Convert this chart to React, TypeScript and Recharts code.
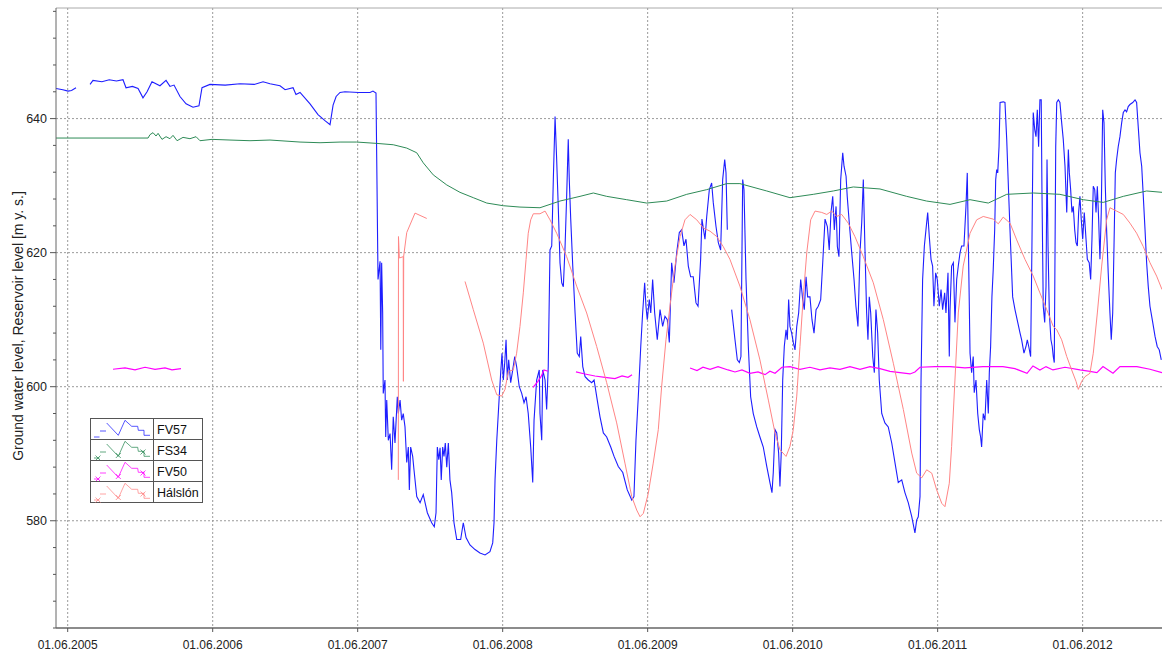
import React from "react";
import {
  LineChart,
  Line,
  XAxis,
  YAxis,
  CartesianGrid,
  ReferenceLine,
  Legend,
} from "recharts";

// time is stored as decimal years, values in m y. s.
type Pt = [number, number | null];

const FV57: Pt[] = [
  [2005.333, 644.5], [2005.38, 644.3], [2005.416, 644.1], [2005.44, 644.2], [2005.471, 644.6],
  [2005.52, null],
  [2005.568, 645.1], [2005.588, 645.7], [2005.65, 645.5], [2005.7, 645.8], [2005.75, 645.6],
  [2005.795, 645.8], [2005.816, 644.6], [2005.86, 644.8], [2005.899, 644.5], [2005.933, 643.1],
  [2005.961, 644.0], [2005.995, 645.5], [2006.05, 644.9], [2006.092, 645.7], [2006.119, 644.8],
  [2006.147, 645.0], [2006.188, 643.3], [2006.23, 642.2], [2006.278, 641.7], [2006.319, 641.9],
  [2006.34, 644.6], [2006.395, 645.1], [2006.5, 645.0], [2006.602, 645.2], [2006.7, 645.1],
  [2006.761, 645.5], [2006.809, 645.2], [2006.878, 644.9], [2006.913, 644.3], [2006.968, 644.6],
  [2006.988, 643.6], [2007.016, 643.9], [2007.085, 642.2], [2007.14, 640.6], [2007.188, 639.7],
  [2007.223, 639.1], [2007.244, 642.0], [2007.265, 643.3], [2007.292, 643.9], [2007.326, 644.0],
  [2007.42, 643.9], [2007.499, 643.9], [2007.519, 644.1], [2007.54, 643.8],
  [2007.547, 630.0], [2007.554, 616.0], [2007.568, 618.7], [2007.573, 605.5], [2007.579, 618.5],
  [2007.586, 611.0], [2007.59, 599.0], [2007.602, 601.0], [2007.607, 592.5], [2007.614, 598.0],
  [2007.625, 592.0], [2007.637, 593.0], [2007.648, 587.6], [2007.659, 595.5], [2007.671, 591.6],
  [2007.687, 598.5], [2007.694, 596.0], [2007.706, 598.0], [2007.717, 595.0], [2007.728, 596.0],
  [2007.74, 594.0], [2007.752, 588.7], [2007.763, 591.0], [2007.77, 584.6], [2007.779, 591.0],
  [2007.793, 589.6], [2007.802, 587.6], [2007.821, 583.6], [2007.844, 582.7], [2007.866, 583.9],
  [2007.894, 581.2], [2007.924, 579.7], [2007.942, 579.1], [2007.954, 581.2], [2007.963, 591.0],
  [2007.973, 589.1], [2007.982, 590.9], [2007.99, 586.1], [2008.0, 591.0], [2008.009, 589.6],
  [2008.018, 591.6], [2008.028, 588.0], [2008.039, 591.6], [2008.05, 586.1], [2008.062, 584.2],
  [2008.078, 579.7], [2008.097, 577.2], [2008.124, 577.2], [2008.142, 579.7], [2008.161, 577.5],
  [2008.188, 576.4], [2008.223, 575.7], [2008.257, 575.2], [2008.292, 574.9], [2008.326, 575.4],
  [2008.345, 576.7], [2008.354, 579.7], [2008.361, 586.1], [2008.373, 592.0], [2008.39, 598.5],
  [2008.4, 602.1], [2008.409, 605.0], [2008.418, 601.0], [2008.428, 603.6], [2008.437, 607.0],
  [2008.446, 601.0], [2008.455, 604.0], [2008.469, 600.6], [2008.483, 602.5], [2008.497, 604.5],
  [2008.51, 603.0], [2008.528, 600.0], [2008.545, 599.0], [2008.561, 597.6], [2008.575, 598.5],
  [2008.59, 596.0], [2008.607, 591.0], [2008.621, 585.7], [2008.63, 595.0], [2008.648, 601.0],
  [2008.666, 602.5], [2008.671, 596.0], [2008.683, 592.0], [2008.69, 602.5], [2008.706, 601.0],
  [2008.717, 596.6], [2008.728, 603.0], [2008.74, 620.4], [2008.752, 621.0], [2008.763, 630.9],
  [2008.775, 640.3], [2008.786, 633.9], [2008.797, 626.9], [2008.809, 618.5], [2008.821, 615.5],
  [2008.832, 614.9], [2008.844, 620.9], [2008.855, 628.4], [2008.866, 636.9], [2008.873, 630.9],
  [2008.883, 625.0], [2008.897, 618.0], [2008.913, 611.0], [2008.928, 605.0], [2008.942, 604.5],
  [2008.952, 607.5], [2008.966, 603.0], [2008.982, 601.5], [2009.004, 601.0], [2009.028, 600.6],
  [2009.044, 601.0], [2009.066, 598.0], [2009.085, 595.5], [2009.108, 593.1], [2009.131, 592.5],
  [2009.159, 591.0], [2009.182, 589.6], [2009.211, 588.1], [2009.242, 587.2], [2009.273, 584.6],
  [2009.304, 583.1], [2009.319, 583.6], [2009.333, 592.0], [2009.349, 598.5], [2009.366, 606.0],
  [2009.379, 611.0], [2009.393, 615.5], [2009.402, 612.0], [2009.411, 610.0], [2009.425, 613.0],
  [2009.435, 611.0], [2009.448, 616.0], [2009.462, 611.0], [2009.48, 607.0], [2009.499, 611.5],
  [2009.517, 609.0], [2009.533, 610.5], [2009.549, 610.0], [2009.563, 606.6], [2009.579, 618.5],
  [2009.595, 615.5], [2009.614, 620.0], [2009.632, 623.0], [2009.648, 623.4], [2009.664, 621.0],
  [2009.678, 622.0], [2009.694, 618.0], [2009.71, 616.4], [2009.728, 616.4], [2009.747, 612.5],
  [2009.761, 612.0], [2009.779, 619.0], [2009.788, 625.0], [2009.809, 622.0], [2009.821, 625.4],
  [2009.839, 629.4], [2009.855, 630.4], [2009.866, 627.5], [2009.885, 623.9], [2009.901, 621.5],
  [2009.917, 620.4], [2009.931, 630.9], [2009.945, 633.9], [2009.954, 631.9], [2009.963, 623.4],
  [2009.975, null],
  [2009.993, 611.5], [2010.016, 607.0], [2010.032, 604.0], [2010.046, 603.6], [2010.057, 604.5],
  [2010.069, 630.9], [2010.078, 629.4], [2010.092, 616.0], [2010.108, 606.0], [2010.124, 598.5],
  [2010.142, 596.0], [2010.166, 594.0], [2010.188, 592.5], [2010.211, 591.0], [2010.235, 588.1],
  [2010.257, 585.7], [2010.271, 584.2], [2010.28, 587.2], [2010.292, 593.6], [2010.304, 593.1],
  [2010.317, 590.1], [2010.326, 585.1], [2010.335, 590.1], [2010.345, 601.0], [2010.356, 606.0],
  [2010.368, 608.5], [2010.377, 607.0], [2010.386, 613.0], [2010.395, 609.0], [2010.407, 608.0],
  [2010.418, 606.6], [2010.43, 605.5], [2010.442, 609.0], [2010.455, 611.0], [2010.469, 616.0],
  [2010.483, 613.0], [2010.494, 611.5], [2010.506, 616.4], [2010.517, 613.4], [2010.533, 613.4],
  [2010.547, 610.0], [2010.561, 608.0], [2010.575, 611.5], [2010.59, 612.0], [2010.607, 613.0],
  [2010.621, 618.5], [2010.637, 625.0], [2010.653, 623.9], [2010.666, 620.4], [2010.678, 626.0],
  [2010.69, 628.4], [2010.701, 623.4], [2010.713, 626.9], [2010.722, 620.9], [2010.733, 619.4],
  [2010.745, 630.9], [2010.759, 634.9], [2010.768, 632.9], [2010.782, 631.4], [2010.79, 628.4],
  [2010.804, 624.5], [2010.821, 620.0], [2010.837, 616.0], [2010.85, 612.0], [2010.864, 609.0],
  [2010.878, 620.0], [2010.89, 624.5], [2010.901, 630.9], [2010.913, 620.0], [2010.924, 611.0],
  [2010.933, 607.0], [2010.942, 613.4], [2010.952, 611.0], [2010.966, 604.5], [2010.977, 602.1],
  [2010.988, 611.5], [2011.0, 608.0], [2011.011, 601.0], [2011.028, 596.0], [2011.05, 594.6],
  [2011.073, 594.0], [2011.097, 591.6], [2011.119, 588.7], [2011.142, 585.7], [2011.166, 586.1],
  [2011.188, 584.2], [2011.211, 582.7], [2011.235, 580.6], [2011.257, 578.2], [2011.269, 580.1],
  [2011.28, 580.6], [2011.292, 583.6], [2011.299, 601.0], [2011.31, 616.0], [2011.322, 621.0],
  [2011.333, 623.4], [2011.345, 626.0], [2011.356, 622.4], [2011.368, 619.0], [2011.379, 618.0],
  [2011.388, 612.0], [2011.4, 617.0], [2011.411, 616.0], [2011.425, 612.0], [2011.437, 614.5],
  [2011.448, 611.5], [2011.462, 614.0], [2011.471, 611.0], [2011.485, 617.0], [2011.494, 604.5],
  [2011.499, 611.5], [2011.51, 618.0], [2011.522, 618.5], [2011.533, 609.6], [2011.545, 616.0],
  [2011.556, 618.0], [2011.568, 620.0], [2011.579, 621.0], [2011.595, 621.0], [2011.609, 626.9],
  [2011.618, 631.9], [2011.628, 618.0], [2011.637, 605.0], [2011.648, 602.1], [2011.659, 604.5],
  [2011.666, 599.1], [2011.678, 601.0], [2011.69, 596.0], [2011.701, 593.6], [2011.71, 592.5],
  [2011.717, 591.0], [2011.728, 596.0], [2011.74, 595.0], [2011.752, 601.0], [2011.763, 596.0],
  [2011.77, 602.1], [2011.779, 606.0], [2011.788, 613.4], [2011.797, 617.5], [2011.807, 623.4],
  [2011.814, 630.9], [2011.821, 632.4], [2011.828, 631.9], [2011.837, 635.8], [2011.844, 642.4],
  [2011.866, 642.5], [2011.878, 642.4], [2011.89, 636.9], [2011.904, 628.4], [2011.917, 621.0],
  [2011.931, 613.4], [2011.947, 611.5], [2011.966, 609.6], [2011.982, 608.0], [2011.993, 607.0],
  [2012.009, 605.0], [2012.023, 606.0], [2012.032, 607.0], [2012.042, 606.0], [2012.055, 604.5],
  [2012.064, 621.0], [2012.073, 640.9], [2012.083, 638.4], [2012.092, 637.3], [2012.101, 641.3],
  [2012.11, 635.8], [2012.119, 642.8], [2012.128, 642.8], [2012.133, 629.4], [2012.142, 612.0],
  [2012.152, 609.6], [2012.161, 615.0], [2012.168, 633.9], [2012.175, 621.0], [2012.184, 611.0],
  [2012.195, 607.0], [2012.204, 606.0], [2012.211, 604.5], [2012.218, 603.6], [2012.228, 635.8],
  [2012.235, 642.4], [2012.246, 642.8], [2012.257, 642.4], [2012.269, 639.4], [2012.28, 636.9],
  [2012.292, 632.9], [2012.304, 626.0], [2012.315, 635.4], [2012.322, 631.9], [2012.331, 629.4],
  [2012.34, 626.0], [2012.349, 626.9], [2012.359, 623.4], [2012.368, 621.5], [2012.377, 621.0],
  [2012.386, 626.0], [2012.395, 628.4], [2012.404, 625.0], [2012.414, 622.0], [2012.425, 626.0],
  [2012.437, 622.0], [2012.446, 619.0], [2012.459, 618.5], [2012.469, 616.0], [2012.478, 622.0],
  [2012.487, 629.9], [2012.497, 629.4], [2012.506, 626.0], [2012.515, 629.9], [2012.524, 625.0],
  [2012.533, 619.0], [2012.542, 626.0], [2012.552, 641.3], [2012.561, 639.4], [2012.57, 629.9],
  [2012.579, 623.4], [2012.59, 617.0], [2012.602, 611.0], [2012.611, 607.0], [2012.621, 611.0],
  [2012.63, 621.0], [2012.639, 631.9], [2012.648, 633.9], [2012.659, 635.8], [2012.671, 637.3],
  [2012.683, 639.4], [2012.694, 640.9], [2012.706, 641.3], [2012.717, 641.0], [2012.728, 641.8],
  [2012.74, 642.1], [2012.759, 642.4], [2012.775, 642.8], [2012.786, 642.4], [2012.797, 638.8],
  [2012.809, 634.9], [2012.821, 632.9], [2012.832, 628.4], [2012.844, 623.4], [2012.855, 618.5],
  [2012.866, 615.0], [2012.878, 612.0], [2012.897, 609.6], [2012.913, 607.5], [2012.928, 606.0],
  [2012.942, 605.5], [2012.956, 604.0],
];

const FS34: Pt[] = [
  [2005.333, 637.1], [2005.968, 637.1], [2005.981, 637.6], [2006.002, 637.9], [2006.023, 637.4],
  [2006.037, 637.8], [2006.064, 636.9], [2006.092, 637.3], [2006.119, 637.0], [2006.14, 637.5],
  [2006.168, 636.7], [2006.209, 637.2], [2006.257, 637.0], [2006.299, 637.3], [2006.326, 636.7],
  [2006.409, 636.9], [2006.533, 636.8], [2006.671, 636.7], [2006.809, 636.8], [2007.016, 636.5],
  [2007.154, 636.4], [2007.292, 636.5], [2007.407, 636.5], [2007.545, 636.3], [2007.659, 636.1],
  [2007.752, 635.6], [2007.821, 634.9], [2007.866, 633.4], [2007.935, 631.6], [2008.028, 630.1],
  [2008.119, 629.0], [2008.211, 628.2], [2008.304, 627.4], [2008.418, 627.0], [2008.533, 626.8],
  [2008.671, 626.7], [2008.809, 627.7], [2008.947, 628.4], [2009.039, 628.9], [2009.131, 628.4],
  [2009.269, 627.9], [2009.407, 627.4], [2009.545, 627.7], [2009.683, 628.7], [2009.821, 629.4],
  [2009.959, 630.3], [2010.05, 630.3], [2010.235, 629.2], [2010.395, 628.2], [2010.556, 628.7],
  [2010.694, 629.2], [2010.832, 629.8], [2011.016, 629.5], [2011.2, 628.4], [2011.337, 627.7],
  [2011.499, 627.2], [2011.637, 627.9], [2011.763, 627.4], [2011.89, 628.7], [2012.073, 628.9],
  [2012.257, 628.7], [2012.418, 627.9], [2012.556, 627.5], [2012.694, 628.4], [2012.855, 629.2],
  [2012.961, 629.0],
];

const FV50: Pt[] = [
  [2005.726, 602.6], [2005.809, 602.8], [2005.878, 602.5], [2005.947, 602.9], [2006.016, 602.6],
  [2006.085, 602.8], [2006.133, 602.5], [2006.195, 602.7],
  [2006.3, null],
  [2008.623, 599.9], [2008.657, 600.8], [2008.678, 601.5], [2008.699, 602.5], [2008.726, 602.3],
  [2008.8, null],
  [2008.919, 602.2], [2008.981, 601.9], [2009.05, 601.6], [2009.119, 601.4], [2009.188, 601.2],
  [2009.237, 601.6], [2009.278, 601.4], [2009.306, 601.8],
  [2009.5, null],
  [2009.706, 602.8], [2009.754, 602.4], [2009.795, 602.9], [2009.844, 602.6], [2009.899, 603.0],
  [2009.968, 602.5], [2010.016, 602.2], [2010.064, 602.5], [2010.119, 602.0], [2010.175, 602.2],
  [2010.223, 601.8], [2010.257, 602.3], [2010.292, 602.0], [2010.34, 602.9], [2010.395, 603.0],
  [2010.464, 602.6], [2010.533, 602.9], [2010.602, 602.5], [2010.671, 602.8], [2010.74, 602.6],
  [2010.809, 603.0], [2010.878, 602.6], [2010.947, 603.0], [2011.016, 602.7], [2011.085, 602.3],
  [2011.154, 602.1], [2011.223, 601.9], [2011.257, 602.2], [2011.292, 602.9], [2011.395, 603.0],
  [2011.499, 603.0], [2011.602, 602.8], [2011.726, 603.0], [2011.864, 603.0], [2011.947, 602.7],
  [2012.03, 602.0], [2012.071, 603.1], [2012.119, 602.5], [2012.161, 603.0], [2012.209, 602.5],
  [2012.292, 602.9], [2012.395, 602.5], [2012.464, 602.3], [2012.512, 602.1], [2012.554, 603.0],
  [2012.623, 602.0], [2012.671, 603.0], [2012.788, 603.0], [2012.878, 602.6], [2012.961, 602.1],
];

const HALSLON: Pt[] = [
  [2007.694, 586.1], [2007.695, 622.4], [2007.701, 619.2], [2007.728, 619.4], [2007.729, 600.8],
  [2007.731, 619.5], [2007.752, 623.0], [2007.809, 625.9], [2007.89, 625.1],
  [2008.0, null],
  [2008.154, 615.7], [2008.211, 611.5], [2008.28, 606.5], [2008.338, 601.0], [2008.373, 598.8],
  [2008.407, 598.6], [2008.43, 599.6], [2008.453, 602.3], [2008.487, 602.5], [2008.51, 605.0],
  [2008.533, 609.0], [2008.556, 614.0], [2008.575, 619.0], [2008.59, 622.9], [2008.607, 624.9],
  [2008.625, 625.8], [2008.671, 625.8], [2008.706, 626.2], [2008.74, 624.9], [2008.786, 622.9],
  [2008.855, 619.4], [2008.924, 615.0], [2008.993, 611.0], [2009.062, 606.0], [2009.131, 600.6],
  [2009.2, 594.6], [2009.257, 588.6], [2009.304, 583.6], [2009.338, 581.6], [2009.361, 580.6],
  [2009.384, 581.1], [2009.418, 584.1], [2009.452, 588.6], [2009.487, 593.6], [2009.51, 600.0],
  [2009.54, 607.0], [2009.573, 613.0], [2009.602, 618.0], [2009.637, 622.4], [2009.671, 624.9],
  [2009.706, 625.7], [2009.752, 624.9], [2009.797, 623.7], [2009.844, 623.2], [2009.89, 622.4],
  [2009.935, 620.9], [2009.981, 619.0], [2010.05, 615.0], [2010.119, 610.0], [2010.188, 604.0],
  [2010.246, 598.0], [2010.292, 593.1], [2010.326, 590.6], [2010.368, 589.6], [2010.395, 591.1],
  [2010.418, 593.6], [2010.442, 598.6], [2010.464, 606.0], [2010.487, 613.5], [2010.511, 620.0],
  [2010.538, 624.9], [2010.568, 626.2], [2010.614, 626.0], [2010.649, 625.7], [2010.683, 626.2],
  [2010.717, 625.4], [2010.752, 625.7], [2010.797, 624.4], [2010.843, 622.4], [2010.901, 619.4],
  [2010.97, 615.5], [2011.039, 610.0], [2011.108, 603.5], [2011.177, 596.6], [2011.235, 590.1],
  [2011.269, 587.1], [2011.304, 586.4], [2011.338, 587.6], [2011.373, 587.1], [2011.407, 584.6],
  [2011.442, 582.6], [2011.464, 582.1], [2011.494, 585.6], [2011.51, 591.1], [2011.533, 601.0],
  [2011.556, 611.0], [2011.59, 618.0], [2011.637, 622.9], [2011.683, 624.9], [2011.728, 625.4],
  [2011.797, 625.0], [2011.832, 624.3], [2011.866, 625.3], [2011.913, 624.4], [2011.959, 621.9],
  [2012.016, 619.0], [2012.073, 616.5], [2012.119, 614.0], [2012.166, 611.5], [2012.211, 609.0],
  [2012.235, 608.5], [2012.269, 607.0], [2012.304, 604.5], [2012.338, 602.5], [2012.368, 600.8],
  [2012.384, 599.6], [2012.407, 600.8], [2012.43, 601.5], [2012.464, 602.0], [2012.487, 605.0],
  [2012.515, 611.0], [2012.545, 618.0], [2012.579, 624.9], [2012.602, 626.7], [2012.648, 626.2],
  [2012.694, 625.7], [2012.74, 624.4], [2012.786, 622.9], [2012.832, 620.9], [2012.878, 618.5],
  [2012.924, 616.5], [2012.961, 614.5],
];

const YEARS = [2005, 2006, 2007, 2008, 2009, 2010, 2011, 2012];
const MAJOR_Y = [580, 600, 620, 640];
const MINOR_STEP = 4;

const X_MIN = 2005.333;
const X_MAX = 2012.961;
const Y_MIN = 564;
const Y_MAX = 656.5;

const JUNE = 151 / 365; // 01.06 as fraction of the year
const xTicks = YEARS.map((y) => y + JUNE);
const yTicks: number[] = [];
for (let v = Y_MIN; v <= Y_MAX; v += MINOR_STEP) yTicks.push(v);

const SERIES = [
  { name: "FV57", color: "#1e1eff", width: 1.1, data: FV57, marks: false },
  { name: "FS34", color: "#2e8b57", width: 1, data: FS34, marks: true },
  { name: "FV50", color: "#ff00ff", width: 1.2, data: FV50, marks: true },
  { name: "Hálslón", color: "#ff8585", width: 1, data: HALSLON, marks: true },
];

const toRows = (pts: Pt[]) => pts.map(([t, v]) => ({ t, v }));

const PLOT_BOTTOM = 628;
const FONT = "'Liberation Sans', Arial, sans-serif";

const YTick = (props: any) => {
  const { y, payload } = props;
  const v = payload?.value as number;
  const major = v % 20 === 0;
  return (
    <g>
      <line x1={major ? 50 : 53} x2={56} y1={y} y2={y} stroke="#555" />
      {major && (
        <text x={47} y={y} dy={4.5} textAnchor="end" fontSize={12.5} fill="#222">
          {v}
        </text>
      )}
    </g>
  );
};

const XTick = (props: any) => {
  const { x, payload } = props;
  const year = Math.floor(payload?.value ?? 0);
  return (
    <g>
      <line x1={x} x2={x} y1={PLOT_BOTTOM} y2={PLOT_BOTTOM + 4} stroke="#555" />
      <text x={x} y={PLOT_BOTTOM + 21} textAnchor="middle" fontSize={12} fill="#222">
        {`01.06.${year}`}
      </text>
    </g>
  );
};

// little sparkline glyph drawn in every legend row
const GLYPH = "M4,19 H9.5 M10,13 H16 M16.7,5 L28.3,17.3 L35,2.3 L41.7,8.3 H47.7 L48.3,12.3 H54 V17.3 H60";
const MARKS = [
  [8, 19],
  [28.3, 16.5],
  [53, 13],
];

const LegendBox = () => {
  const rowH = 21;
  return (
    <svg width={114} height={86} style={{ display: "block", fontFamily: FONT }}>
      <rect x={0.5} y={0.5} width={112} height={84} fill="#fff" stroke="#555" />
      {SERIES.map((s, i) => (
        <g key={s.name} transform={`translate(0, ${i * rowH})`}>
          {i > 0 && <line x1={0} x2={113} y1={0.5} y2={0.5} stroke="#555" />}
          <path d={GLYPH} fill="none" stroke={s.color} strokeWidth={1} opacity={0.75} />
          {s.marks &&
            MARKS.map(([mx, my], k) => (
              <path
                key={k}
                d={`M${mx - 2.5},${my - 2.5} L${mx + 2.5},${my + 2.5} M${mx - 2.5},${my + 2.5} L${mx + 2.5},${my - 2.5}`}
                stroke={s.color}
                strokeWidth={1}
                opacity={0.75}
              />
            ))}
          <text x={67} y={15.5} fontSize={12.5} fill="#111">
            {s.name}
          </text>
        </g>
      ))}
      <line x1={63.5} x2={63.5} y1={0} y2={85} stroke="#555" />
    </svg>
  );
};

export default function App() {
  return (
    <div
      style={{
        position: "absolute",
        left: 0,
        top: 0,
        width: 1162,
        height: 655,
        background: "#fff",
        fontFamily: FONT,
      }}
    >
      <LineChart
        width={1162}
        height={655}
        margin={{ top: 8, right: 0, bottom: 0, left: 0 }}
      >
        <CartesianGrid
          stroke="#9a9a9a"
          strokeDasharray="2 2"
          horizontalValues={MAJOR_Y}
          verticalValues={xTicks}
        />
        <ReferenceLine y={Y_MAX} stroke="#aaa" />
        <XAxis
          type="number"
          dataKey="t"
          domain={[X_MIN, X_MAX]}
          allowDataOverflow
          ticks={xTicks}
          interval={0}
          height={27}
          tickLine={false}
          axisLine={{ stroke: "#666", strokeWidth: 1.5 }}
          tick={(p: any) => <XTick {...p} />}
        />
        <YAxis
          type="number"
          domain={[Y_MIN, Y_MAX]}
          allowDataOverflow
          ticks={yTicks}
          interval={0}
          width={56}
          tickLine={false}
          axisLine={{ stroke: "#666" }}
          tick={(p: any) => <YTick {...p} />}
        />
        {SERIES.map((s) => (
          <Line
            key={s.name}
            name={s.name}
            data={toRows(s.data)}
            dataKey="v"
            type="linear"
            stroke={s.color}
            strokeWidth={s.width}
            dot={false}
            activeDot={false}
            connectNulls={false}
            isAnimationActive={false}
          />
        ))}
        <Legend
          layout="vertical"
          align="center"
          verticalAlign="middle"
          wrapperStyle={{ left: 90, top: 418, width: 114, height: 86 }}
          content={() => <LegendBox />}
        />
      </LineChart>
      <svg
        width={40}
        height={655}
        style={{ position: "absolute", left: 0, top: 0, pointerEvents: "none" }}
      >
        <text
          x={23}
          y={326}
          transform="rotate(-90, 23, 326)"
          textAnchor="middle"
          fontSize={14}
          fill="#222"
          fontFamily={FONT}
        >
          Ground water level, Reservoir level [m y. s.]
        </text>
      </svg>
    </div>
  );
}
